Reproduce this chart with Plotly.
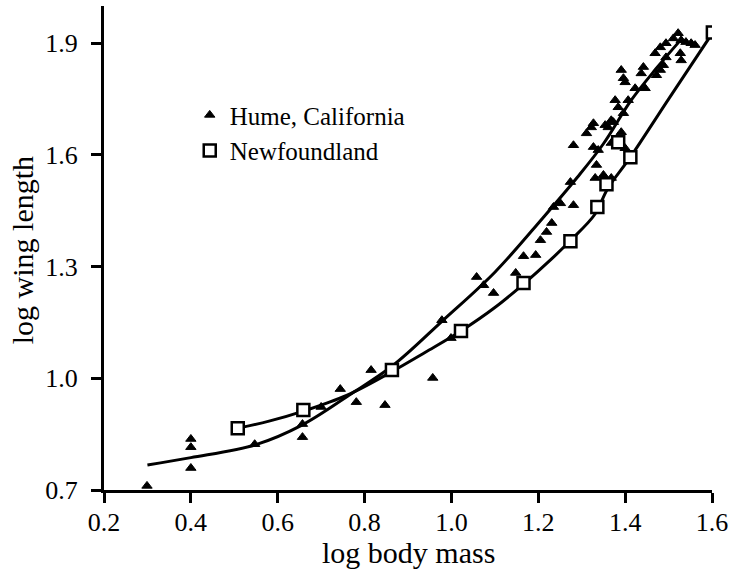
import plotly.graph_objects as go

# Hume, California (triangles)
hume_x = [0.299, 0.40, 0.40, 0.40, 0.547, 0.657, 0.657, 0.700, 0.744, 0.781, 0.815, 0.847,
          0.957, 0.978, 0.999, 1.058, 1.074, 1.097, 1.148, 1.166, 1.194, 1.205, 1.219, 1.231,
          1.235, 1.251, 1.281, 1.274, 1.331, 1.334, 1.350, 1.368, 1.281, 1.311, 1.322, 1.327,
          1.338, 1.361, 1.373, 1.391, 1.400, 1.368, 1.384, 1.396, 1.407, 1.327, 1.354, 1.368,
          1.377, 1.391, 1.396, 1.400, 1.423, 1.442, 1.437, 1.446, 1.472, 1.481, 1.488, 1.494,
          1.481, 1.494, 1.511, 1.522, 1.529, 1.540, 1.552, 1.561, 1.529, 1.527, 1.469]
hume_y = [0.711, 0.837, 0.815, 0.759, 0.823, 0.877, 0.842, 0.923, 0.971, 0.936, 1.022, 0.928,
          1.001, 1.156, 1.108, 1.272, 1.250, 1.229, 1.283, 1.328, 1.331, 1.371, 1.393, 1.417,
          1.460, 1.470, 1.465, 1.527, 1.538, 1.573, 1.546, 1.538, 1.626, 1.658, 1.674, 1.621,
          1.613, 1.674, 1.688, 1.661, 1.618, 1.632, 1.728, 1.712, 1.747, 1.685, 1.680, 1.693,
          1.747, 1.828, 1.806, 1.795, 1.779, 1.836, 1.819, 1.779, 1.814, 1.828, 1.841, 1.862,
          1.889, 1.900, 1.913, 1.927, 1.908, 1.903, 1.900, 1.895, 1.854, 1.873, 1.873]

# Newfoundland (open squares)
nf_x = [0.508, 0.659, 0.863, 1.022, 1.166, 1.274, 1.336, 1.357, 1.384, 1.412, 1.602]
nf_y = [0.866, 0.915, 1.022, 1.127, 1.256, 1.368, 1.460, 1.521, 1.634, 1.594, 1.929]

# Fitted curves
hume_fit_x = [0.30, 0.40, 0.55, 0.657, 0.765, 0.866, 0.98, 1.10, 1.21, 1.29, 1.35, 1.414, 1.47, 1.525]
hume_fit_y = [0.767, 0.787, 0.822, 0.875, 0.955, 1.035, 1.155, 1.285, 1.43, 1.54, 1.63, 1.747, 1.83, 1.905]
nf_fit_x = [0.508, 0.58, 0.659, 0.76, 0.863, 0.94, 1.022, 1.10, 1.166, 1.23, 1.274, 1.33, 1.36, 1.412, 1.50, 1.602]
nf_fit_y = [0.866, 0.885, 0.912, 0.955, 1.018, 1.07, 1.127, 1.19, 1.253, 1.32, 1.37, 1.44, 1.51, 1.594, 1.75, 1.929]

x_ticks = [0.2, 0.4, 0.6, 0.8, 1.0, 1.2, 1.4, 1.6]
y_ticks = [0.7, 1.0, 1.3, 1.6, 1.9]

FONT = "Liberation Serif"

fig = go.Figure()
fig.add_trace(go.Scatter(x=hume_fit_x, y=hume_fit_y, mode="lines", line=dict(color="black", width=3, shape="spline"),
                         showlegend=False, hoverinfo="skip"))
fig.add_trace(go.Scatter(x=nf_fit_x, y=nf_fit_y, mode="lines", line=dict(color="black", width=3, shape="spline"),
                         showlegend=False, hoverinfo="skip"))
fig.add_trace(go.Scatter(x=hume_x, y=hume_y, mode="markers", name="Hume, California",
                         marker=dict(symbol="triangle-up", size=9, color="black",
                                     line=dict(color="black", width=1))))
fig.add_trace(go.Scatter(x=nf_x, y=nf_y, mode="markers", name="Newfoundland",
                         marker=dict(symbol="square", size=12, color="white",
                                     line=dict(color="black", width=2.5))))

axis_common = dict(showline=True, linecolor="black", linewidth=3, ticks="outside", ticklen=10,
                   tickwidth=3, tickcolor="black", showgrid=False, zeroline=False,
                   tickfont=dict(family=FONT, size=26, color="black"))

plot_w = 734 - 104 - 20
plot_h = 578 - 6 - 88

fig.update_layout(
    width=734, height=578,
    margin=dict(l=104, r=20, t=6, b=88),
    paper_bgcolor="white", plot_bgcolor="white",
    font=dict(family=FONT, color="black"),
    xaxis=dict(range=[0.2, 1.6], tickvals=x_ticks, ticktext=[f"{v:.1f}" for v in x_ticks],
               ticklabelstandoff=-3, **axis_common),
    yaxis=dict(range=[0.7, 2.0], tickvals=y_ticks, ticktext=[f"{v:.1f}" for v in y_ticks],
               ticklabelstandoff=8, **axis_common),
    legend=dict(x=0.141, y=0.822, xanchor="left", yanchor="top", bgcolor="rgba(0,0,0,0)",
                font=dict(family=FONT, size=25, color="black"), tracegroupgap=0),
    annotations=[
        dict(text="log body mass", x=(410 - 104) / plot_w, y=(490 - 552) / plot_h,
             xref="paper", yref="paper", xanchor="center", yanchor="middle", showarrow=False,
             font=dict(family=FONT, size=30, color="black")),
        dict(text="log wing length", x=(22 - 104) / plot_w, y=(490 - 250) / plot_h,
             xref="paper", yref="paper", xanchor="center", yanchor="middle", showarrow=False,
             textangle=-90, font=dict(family=FONT, size=30, color="black")),
    ],
)

fig.write_html("out.html", config={"displayModeBar": False},
               post_script="document.body.style.margin='0';document.body.style.overflow='hidden';")
